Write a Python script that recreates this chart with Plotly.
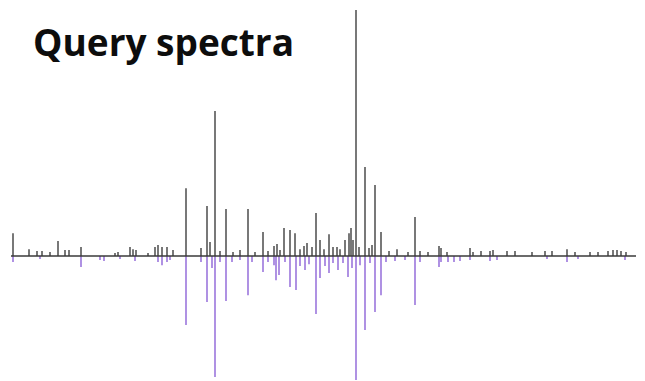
import plotly.graph_objects as go

# Query spectrum (upward, black): m/z and relative intensity (%)
query_mz = [104, 136, 152, 162, 178, 194, 208, 216, 240, 308, 314, 338, 344, 350, 374,
            388, 394, 402, 412, 424, 450, 480, 492, 498, 508, 518, 530, 544, 558, 574,
            588, 604, 614, 626, 632, 638, 646, 658, 668, 678, 686, 692, 702, 710, 718,
            726, 736, 744, 752, 758, 768, 776, 780, 784, 790, 796, 808, 816, 822, 828,
            840, 856, 872, 894, 908, 918, 934, 956, 960, 972, 1018, 1024, 1040, 1058,
            1064, 1092, 1108, 1142, 1168, 1182, 1212, 1228, 1258, 1274, 1294, 1304,
            1312, 1320, 1330]
query_int = [9.3, 2.8, 2.0, 2.0, 1.6, 6.1, 2.4, 2.4, 3.7, 1.2, 1.6, 3.7, 2.8, 2.4, 1.2,
             3.7, 4.5, 3.7, 3.7, 2.4, 27.6, 3.3, 20.3, 5.7, 58.9, 2.0, 19.1, 1.6, 2.4, 19.1,
             1.6, 9.8, 2.0, 4.1, 4.9, 2.4, 11.4, 10.6, 9.3, 2.8, 4.1, 5.3, 3.7, 17.5, 6.5,
             2.8, 8.9, 3.7, 3.7, 2.8, 6.5, 9.3, 11.4, 6.5, 100.0, 3.7, 36.2, 3.3, 4.5, 28.9,
             9.8, 2.0, 2.8, 1.6, 15.9, 2.0, 1.6, 4.1, 3.3, 1.6, 3.3, 1.6, 2.0, 2.0,
             2.4, 2.0, 2.0, 1.6, 2.0, 2.0, 2.8, 1.6, 1.6, 1.6, 2.0, 2.4,
             2.4, 2.0, 1.6]

# Library spectrum (downward, purple)
lib_mz = [104, 158, 240, 278, 286, 318, 348, 394, 402, 412, 418, 450, 480, 492, 502,
          508, 518, 530, 542, 558, 574, 582, 604, 614, 626, 630, 636, 648, 658, 670,
          678, 688, 696, 710, 718, 728, 736, 744, 754, 764, 774, 782, 790, 798, 808,
          818, 828, 840, 850, 868, 888, 908, 918, 956, 960, 974, 986, 998, 1018, 1058,
          1072, 1172, 1212, 1234, 1328]
lib_int = [2.4, 1.2, 4.5, 1.6, 2.0, 1.2, 2.0, 2.4, 3.7, 2.4, 1.6, 28.0, 2.4, 18.7, 4.9,
           49.2, 2.4, 18.3, 2.4, 1.6, 15.9, 2.4, 6.5, 2.4, 3.7, 9.8, 7.7, 2.4, 12.6, 13.8,
           4.1, 5.7, 3.3, 23.6, 8.9, 4.1, 6.9, 2.8, 5.7, 2.8, 8.5, 4.9, 50.4, 3.7, 30.1,
           2.8, 22.8, 15.9, 2.4, 2.0, 1.6, 19.9, 2.4, 4.5, 2.4, 2.4, 2.4, 2.0, 1.6, 2.0,
           1.6, 1.2, 2.4, 1.2, 1.6]

mz_span = [100, 1350]
title_text = "Query spectra"


def sticks(mz, inten, sign):
    xs, ys = [], []
    for m, v in zip(mz, inten):
        xs += [m, m, None]
        ys += [0, sign * v, None]
    return xs, ys


fig = go.Figure()
lx, ly = sticks(lib_mz, lib_int, -1)
fig.add_trace(go.Scatter(x=lx, y=ly, mode="lines",
                         line=dict(color="#7a48d0", width=1.2), hoverinfo="skip"))
qx, qy = sticks(query_mz, query_int, 1)
fig.add_trace(go.Scatter(x=qx, y=qy, mode="lines",
                         line=dict(color="#1e1e1e", width=1.2), hoverinfo="skip"))
fig.add_trace(go.Scatter(x=mz_span, y=[0, 0], mode="lines",
                         line=dict(color="#3a3a3a", width=1.6), hoverinfo="skip"))

fig.add_annotation(text="<b>" + title_text + "</b>", xref="paper", yref="paper",
                   x=31 / 645, y=1 - 14 / 381, xanchor="left", yanchor="top",
                   showarrow=False, font=dict(family="Open Sans", size=37, color="#0d0d0d"))

fig.update_layout(
    width=645, height=381, margin=dict(l=0, r=0, t=0, b=0),
    paper_bgcolor="white", plot_bgcolor="white", showlegend=False,
    xaxis=dict(range=[78, 1368], visible=False, fixedrange=True),
    yaxis=dict(range=[-50.8, 104.07], visible=False, fixedrange=True),
)

fig.write_html("out.html")
